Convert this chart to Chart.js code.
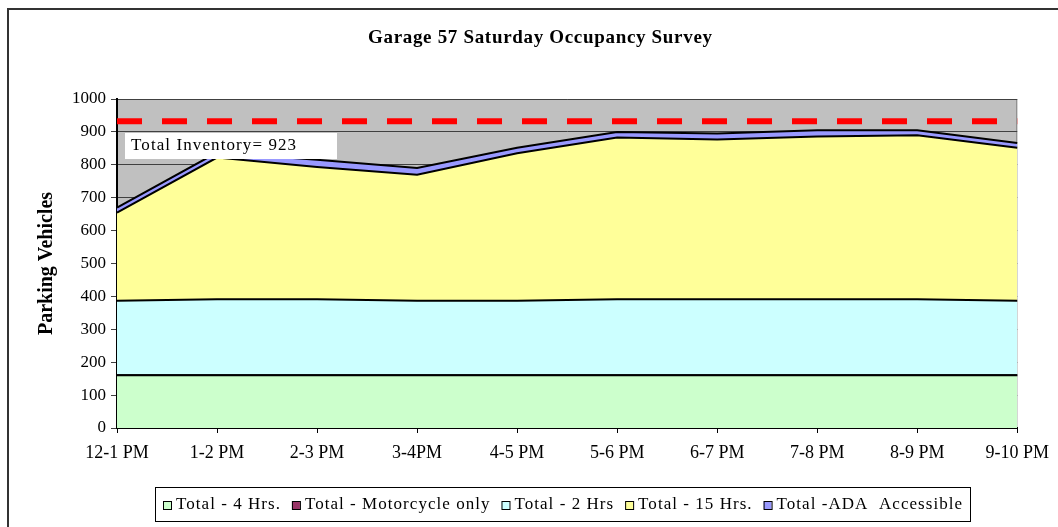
<!DOCTYPE html>
<html>
<head>
<meta charset="utf-8">
<script src="https://cdn.jsdelivr.net/npm/chart.js@4"></script>
<style>
  html, body { margin: 0; padding: 0; background: #fff; }
  #wrap { position: relative; width: 1058px; height: 527px; }
</style>
</head>
<body>
<div id="wrap"><canvas id="c" width="1058" height="527"></canvas></div>
<script>
const categories = ['12-1 PM', '1-2 PM', '2-3 PM', '3-4PM', '4-5 PM', '5-6 PM', '6-7 PM', '7-8 PM', '8-9 PM', '9-10 PM'];
const total4Hrs = [160, 160, 160, 160, 160, 160, 160, 160, 160, 160];
const totalMotorcycle = [0, 0, 0, 0, 0, 0, 0, 0, 0, 0];
const total2Hrs = [227, 231, 231, 227, 227, 231, 231, 231, 231, 227];
const total15Hrs = [268, 431, 402, 383, 448, 492, 486, 495, 499, 465];
const totalADA = [15, 15, 22, 20, 17, 17, 18, 19, 15, 14];
const inventoryLine = [932, 932, 932, 932, 932, 932, 932, 932, 932, 932];
const yTicks = [0, 100, 200, 300, 400, 500, 600, 700, 800, 900, 1000];
const chartTitle = 'Garage 57 Saturday Occupancy Survey';
const yTitle = 'Parking Vehicles';
const inventoryLabel = 'Total Inventory= 923';

const SERIF = '"Liberation Serif", "Times New Roman", serif';

const seriesDefs = [
  { label: 'Total - 4 Hrs.', data: total4Hrs, color: '#CCFFCC' },
  { label: 'Total - Motorcycle only', data: totalMotorcycle, color: '#993366' },
  { label: 'Total - 2 Hrs', data: total2Hrs, color: '#CCFFFF' },
  { label: 'Total - 15 Hrs.', data: total15Hrs, color: '#FFFF99' },
  { label: 'Total -ADA  Accessible', data: totalADA, color: '#9999FF' }
];

const datasets = seriesDefs.map((s, i) => ({
  label: s.label,
  data: s.data,
  backgroundColor: s.color,
  borderColor: '#000',
  borderWidth: 2,
  pointRadius: 0,
  tension: 0,
  fill: i === 0 ? 'origin' : '-1',
  stack: 'occ'
}));
datasets.push({
  label: 'Inventory',
  data: inventoryLine,
  borderColor: '#FF0000',
  borderWidth: 6,
  borderDash: [25, 20],
  pointRadius: 0,
  fill: false,
  stack: 'inv',
  order: -1
});

function fitText(ctx, text, x, y, width) {
  ctx.letterSpacing = '0px';
  const w = ctx.measureText(text).width;
  const sp = Math.max(0, (width - w) / Math.max(1, text.length - 1));
  ctx.letterSpacing = sp.toFixed(2) + 'px';
  ctx.fillText(text, x, y);
  ctx.letterSpacing = '0px';
}

const decor = {
  id: 'decor',
  beforeDraw(chart) {
    const { ctx, chartArea: a } = chart;
    ctx.save();
    ctx.strokeStyle = '#333';
    ctx.lineWidth = 2;
    ctx.beginPath();
    ctx.moveTo(8, 600);
    ctx.lineTo(8, 9);
    ctx.lineTo(1070, 9);
    ctx.stroke();
    ctx.fillStyle = '#C0C0C0';
    ctx.fillRect(a.left, a.top, a.right - a.left, a.bottom - a.top);
    ctx.strokeStyle = '#808080';
    ctx.lineWidth = 1;
    ctx.strokeRect(a.left + 0.5, a.top + 0.5, a.right - a.left - 1, a.bottom - a.top);
    ctx.fillStyle = '#000';
    ctx.font = 'bold 19px ' + SERIF;
    ctx.textAlign = 'left';
    ctx.textBaseline = 'middle';
    fitText(ctx, chartTitle, 368, 38, 344);
    ctx.restore();
  },
  afterDraw(chart) {
    const { ctx } = chart;
    ctx.save();
    ctx.fillStyle = '#fff';
    ctx.fillRect(125, 133, 212, 26);
    ctx.fillStyle = '#000';
    ctx.font = '17px ' + SERIF;
    ctx.textAlign = 'left';
    ctx.textBaseline = 'middle';
    fitText(ctx, inventoryLabel, 131, 146, 165);
    // legend
    ctx.strokeStyle = '#000';
    ctx.lineWidth = 1;
    ctx.strokeRect(155.5, 487.5, 815, 34);
    ctx.font = '17px ' + SERIF;
    const box = 8, gapBT = 5, gapItem = 12;
    const startX = 163, endX = 962;
    let natural = 0, chars = 0;
    seriesDefs.forEach(s => { natural += ctx.measureText(s.label).width; chars += s.label.length - 1; });
    const fixed = seriesDefs.length * (box + gapBT) + (seriesDefs.length - 1) * gapItem;
    const sp = Math.max(0, (endX - startX - fixed - natural) / chars);
    let x = startX;
    seriesDefs.forEach((s) => {
      ctx.fillStyle = s.color;
      ctx.fillRect(x, 501, box, box);
      ctx.strokeStyle = '#000';
      ctx.strokeRect(x + 0.5, 501.5, box, box);
      x += box + gapBT;
      ctx.fillStyle = '#000';
      ctx.letterSpacing = sp.toFixed(2) + 'px';
      const w = ctx.measureText(s.label).width;
      ctx.fillText(s.label, x, 505);
      ctx.letterSpacing = '0px';
      x += w - sp + gapItem;
    });
    ctx.restore();
  }
};

new Chart(document.getElementById('c'), {
  type: 'line',
  data: { labels: categories, datasets },
  options: {
    responsive: false,
    animation: false,
    layout: { padding: { top: 99, right: 39, bottom: 34, left: 35 } },
    plugins: { legend: { display: false }, title: { display: false }, tooltip: { enabled: false } },
    scales: {
      x: {
        type: 'category',
        offset: false,
        grid: { drawOnChartArea: false, color: '#000', tickLength: 5 },
        border: { color: '#000', width: 2 },
        ticks: { color: '#000', font: { family: SERIF, size: 18 }, padding: 9, maxRotation: 0, autoSkip: false },
        afterFit(s) { s.height = 65; }
      },
      y: {
        stacked: true,
        min: 0,
        max: 1000,
        afterBuildTicks(s) { s.ticks = yTicks.map(v => ({ value: v })); },
        grid: { color: '#404040', lineWidth: 1, tickLength: 6 },
        border: { color: '#000', width: 2 },
        ticks: { color: '#000', font: { family: SERIF, size: 17 }, padding: 5, callback: (v) => String(v) },
        title: { display: true, text: yTitle, color: '#000', font: { family: SERIF, size: 20, weight: 'bold' }, padding: 0 },
        afterFit(s) { s.width = 82; }
      }
    }
  },
  plugins: [decor]
});
</script>
</body>
</html>
